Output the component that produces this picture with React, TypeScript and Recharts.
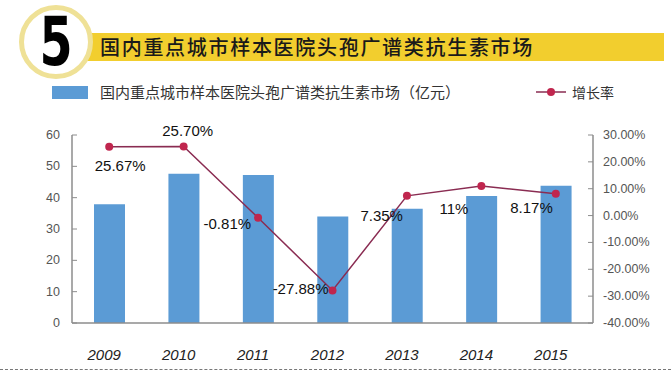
import React from 'react';
import { ComposedChart, Bar, Line, XAxis, YAxis, LabelList } from 'recharts';

const years = ['2009', '2010', '2011', '2012', '2013', '2014', '2015'];
const marketSize = [37.9, 47.6, 47.2, 34.0, 36.5, 40.5, 43.8];
const growthRate = [25.67, 25.7, -0.81, -27.88, 7.35, 11, 8.17];
const growthLabels = ['25.67%', '25.70%', '-0.81%', '-27.88%', '7.35%', '11%', '8.17%'];
const leftTicks = [0, 10, 20, 30, 40, 50, 60];
const rightTicks = [-40, -30, -20, -10, 0, 10, 20, 30];

const titleText = '国内重点城市样本医院头孢广谱类抗生素市场';
const barLegend = '国内重点城市样本医院头孢广谱类抗生素市场（亿元）';
const lineLegend = '增长率';

const labelPlacement = [
  { dx: 11, dy: 19, anchor: 'middle' },
  { dx: 4, dy: -16, anchor: 'middle' },
  { dx: -7, dy: 6, anchor: 'end' },
  { dx: -4, dy: -2, anchor: 'end' },
  { dx: -4, dy: 20, anchor: 'end' },
  { dx: -13, dy: 22, anchor: 'end' },
  { dx: -3, dy: 14, anchor: 'end' },
];

const data = years.map((y, i) => ({
  year: y,
  size: marketSize[i],
  growth: growthRate[i],
  label: growthLabels[i],
}));

const BAR_COLOR = '#5B9BD5';
const LINE_COLOR = '#8A2C52';
const DOT_COLOR = '#C0264E';
const AXIS_COLOR = '#8C8C8C';
const SANS = 'Arial, "Liberation Sans", sans-serif';
const CJK = '"Noto Sans CJK SC", sans-serif';

const LeftTick = (props: any) => {
  const { x, y, payload } = props;
  return (
    <g>
      <line x1={x + 12} x2={x + 17} y1={y} y2={y} stroke={AXIS_COLOR} strokeWidth={1} />
      <text x={x} y={y} textAnchor="end" dominantBaseline="central" fontSize={12.5} fill="#555" fontFamily={SANS}>
        {payload.value}
      </text>
    </g>
  );
};

const RightTick = (props: any) => {
  const { x, y, payload } = props;
  return (
    <g>
      <line x1={x - 10} x2={x - 15} y1={y} y2={y} stroke={AXIS_COLOR} strokeWidth={1} />
      <text x={x} y={y} textAnchor="start" dominantBaseline="central" fontSize={12.5} fill="#555" fontFamily={SANS}>
        {`${Number(payload.value).toFixed(2)}%`}
      </text>
    </g>
  );
};

const XTick = (props: any) => {
  const { x, y, payload } = props;
  return (
    <text x={x - 5} y={y} dy="0.71em" textAnchor="middle" fontSize={15} fontStyle="italic" fill="#222" fontFamily={SANS}>
      {payload.value}
    </text>
  );
};

const GrowthLabel = (props: any) => {
  const { x, y, index, value } = props;
  const p = labelPlacement[index] || { dx: 0, dy: -12, anchor: 'middle' };
  return (
    <text
      x={x + p.dx}
      y={y + p.dy}
      textAnchor={p.anchor}
      dominantBaseline="central"
      fontSize={15}
      fill="#111"
      fontFamily={SANS}
    >
      {value}
    </text>
  );
};

export default function App() {
  return (
    <div style={{ position: 'absolute', left: 0, top: 0, width: 671, height: 374, background: '#fff', overflow: 'hidden' }}>
      {/* Title banner */}
      <div
        style={{
          position: 'absolute',
          left: 86,
          top: 33,
          width: 578,
          height: 28,
          background: '#F2CE2E',
        }}
      />
      <div
        style={{
          position: 'absolute',
          left: 100,
          top: 33,
          height: 28,
          lineHeight: '28px',
          fontFamily: CJK,
          fontSize: 20,
          letterSpacing: 1.7,
          fontWeight: 500,
          color: '#1a1a1a',
          whiteSpace: 'nowrap',
        }}
      >
        {titleText}
      </div>
      <div
        style={{
          position: 'absolute',
          left: 19,
          top: 5,
          width: 64,
          height: 64,
          borderRadius: '50%',
          border: '5px solid #EFE196',
          background: '#fff',
        }}
      />
      <div
        style={{
          position: 'absolute',
          left: 24,
          top: 4,
          width: 64,
          height: 76,
          lineHeight: '76px',
          textAlign: 'center',
          fontFamily: '"DejaVu Sans", sans-serif',
          fontWeight: 'bold',
          fontSize: 68,
          color: '#000',
          transform: 'scaleX(0.7)',
        }}
      >
        5
      </div>

      {/* Legend */}
      <div style={{ position: 'absolute', left: 52, top: 86, width: 36, height: 13, background: BAR_COLOR }} />
      <div
        style={{
          position: 'absolute',
          left: 100,
          top: 82,
          lineHeight: '20px',
          fontFamily: CJK,
          fontSize: 15,
          color: '#333',
          whiteSpace: 'nowrap',
        }}
      >
        {barLegend}
      </div>
      <svg style={{ position: 'absolute', left: 535, top: 84 }} width={32} height={16}>
        <line x1={1} x2={31} y1={8} y2={8} stroke={LINE_COLOR} strokeWidth={1.5} />
        <circle cx={16} cy={8} r={4} fill={DOT_COLOR} />
      </svg>
      <div
        style={{
          position: 'absolute',
          left: 572,
          top: 82,
          lineHeight: '20px',
          fontFamily: CJK,
          fontSize: 14,
          color: '#333',
          whiteSpace: 'nowrap',
        }}
      >
        {lineLegend}
      </div>

      {/* Chart */}
      <div style={{ position: 'absolute', left: 0, top: 0 }}>
        <ComposedChart width={671} height={374} data={data} margin={{ top: 135, right: 0, bottom: 0, left: 0 }}>
          <XAxis
            dataKey="year"
            height={51}
            axisLine={{ stroke: AXIS_COLOR, strokeWidth: 1.5 }}
            tickLine={false}
            tickSize={0}
            tickMargin={26}
            tick={<XTick />}
            interval={0}
          />
          <YAxis
            yAxisId="left"
            orientation="left"
            width={72}
            domain={[0, 60]}
            ticks={leftTicks}
            axisLine={{ stroke: AXIS_COLOR, strokeWidth: 1.5 }}
            tickLine={false}
            tickSize={0}
            tickMargin={12}
            tick={<LeftTick />}
            interval={0}
          />
          <YAxis
            yAxisId="right"
            orientation="right"
            width={78}
            domain={[-40, 30]}
            ticks={rightTicks}
            axisLine={{ stroke: AXIS_COLOR, strokeWidth: 1.5 }}
            tickLine={false}
            tickSize={0}
            tickMargin={10}
            tick={<RightTick />}
            interval={0}
          />
          <Bar yAxisId="left" dataKey="size" fill={BAR_COLOR} barSize={31} isAnimationActive={false} />
          <Line
            yAxisId="right"
            dataKey="growth"
            stroke={LINE_COLOR}
            strokeWidth={1.5}
            dot={{ r: 4, fill: DOT_COLOR, stroke: 'none' }}
            activeDot={false}
            isAnimationActive={false}
          >
            <LabelList dataKey="label" content={<GrowthLabel />} />
          </Line>
        </ComposedChart>
      </div>

      {/* Bottom dashed rule */}
      <div style={{ position: 'absolute', left: 0, top: 369, width: 671, borderTop: '1px dashed #777' }} />
    </div>
  );
}
